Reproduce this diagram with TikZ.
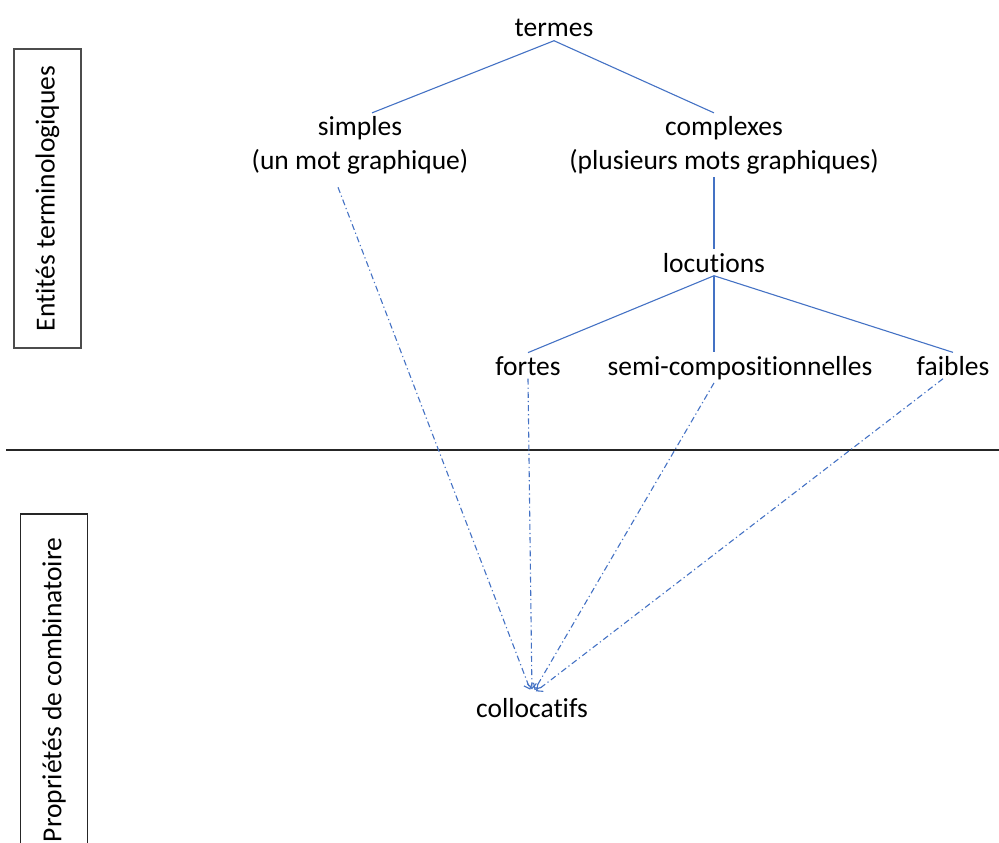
\documentclass[tikz,border=0pt]{standalone}
\usepackage{fontspec}
\setmainfont{Carlito}[RawFeature={-liga,-clig,-dlig}]
\usetikzlibrary{arrows.meta}
\definecolor{lienbleu}{HTML}{4472C4}
\begin{document}
\begin{tikzpicture}[x=1pt,y=-1pt,
        mot/.style={font=\fontsize{27.5}{33.5}\selectfont, anchor=base, align=center},
        arbre/.style={lienbleu, line width=1.1pt},
        colloc/.style={lienbleu, line width=1.1pt, dash pattern=on 6pt off 3pt on 1.2pt off 3pt, shorten >=5pt, -{Straight Barb[length=5pt,width=9pt]}},
        cadre/.style={draw=black!70, line width=1.2pt, rotate=90, minimum height=67pt, font=\fontsize{27.5}{33.5}\selectfont}]
        \useasboundingbox (0,0) rectangle (999,843);
        \clip (0,0) rectangle (999,843);
        \node[cadre, minimum width=299pt] (entites) at (47.5,198.5) {Entités terminologiques};
        \node[cadre, minimum width=352pt, draw=black!85] (proprietes) at (54,690) {Propriétés de combinatoire};
        \draw[line width=2pt, black!85] (6,450) -- (999,450);
        % termes
        \node[mot] (termes) at (554,37) {termes};
        \node[mot] (simples) at (360,169) {simples\\(un mot graphique)};
        \node[mot] (complexes) at (724,169) {complexes\\(plusieurs mots graphiques)};
        \node[mot] (locutions) at (714,272) {locutions};
        \node[mot] (fortes) at (528,375) {fortes};
        \node[mot] (semi) at (740,375) {semi-compositionnelles};
        \node[mot] (faibles) at (953,375) {faibles};
        \node[mot] (collocatifs) at (532,717) {collocatifs};
        \draw[arbre] (termes.south) -- ([xshift=12pt]simples.north);
        \draw[arbre] (termes.south) -- ([xshift=-10pt]complexes.north);
        \draw[arbre] (locutions.north |- complexes.south) -- (locutions.north);
        \draw[arbre] (locutions.south) -- (fortes.north);
        \draw[arbre] (locutions.south) -- (locutions.south |- semi.north);
        \draw[arbre] (locutions.south) -- (faibles.north);
        % collocatifs
        \draw[colloc] ([xshift=-22pt,yshift=-10pt]simples.south) -- (collocatifs.north);
        \draw[colloc] (fortes.south) -- (collocatifs.north);
        \draw[colloc] (locutions.south |- semi.south) -- (collocatifs.north);
        \draw[colloc] ([xshift=-10pt]faibles.south) -- (collocatifs.north);
    \end{tikzpicture}
\end{document}
